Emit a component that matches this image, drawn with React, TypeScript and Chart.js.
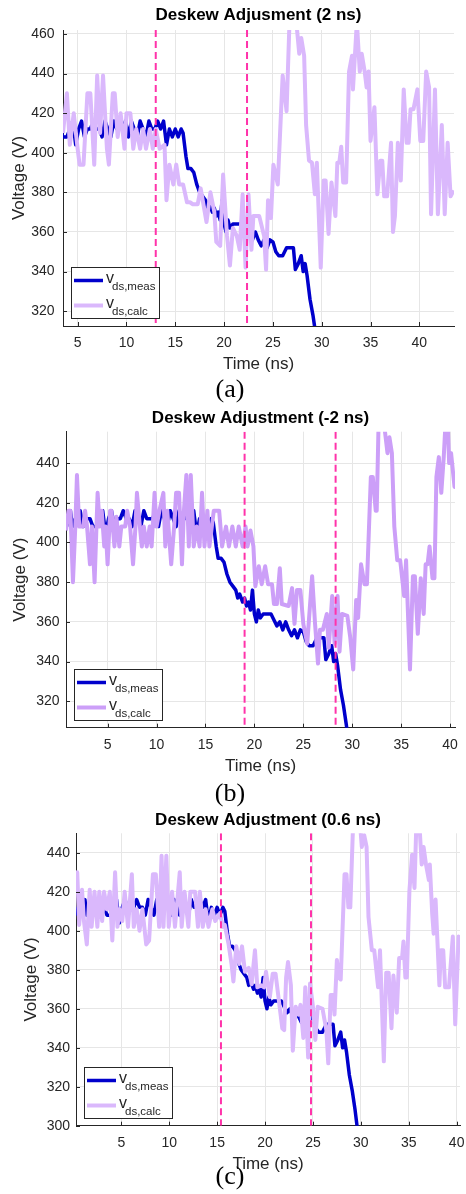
import React, { useEffect, useRef } from "react";
import { Chart, registerables } from "chart.js";

Chart.register(...registerables);

const SANS = "'Liberation Sans', Arial, Helvetica, sans-serif";
const SERIF = "'Liberation Serif', 'Times New Roman', serif";

// ---------- data ----------
const timeTicks = [5, 10, 15, 20, 25, 30, 35, 40];
const voltTicksA = [320, 340, 360, 380, 400, 420, 440, 460];
const voltTicksB = [320, 340, 360, 380, 400, 420, 440];
const voltTicksC = [300, 320, 340, 360, 380, 400, 420, 440];

const panelTitles = [
  "Deskew Adjusment (2 ns)",
  "Deskew Adjustment (-2 ns)",
  "Deskew Adjustment (0.6 ns)",
];
const panelCaptions = ["(a)", "(b)", "(c)"];

// vertical dashed markers (ns)
const markersA = [13.0, 22.35];
const markersB = [19.0, 28.3];
const markersC = [15.4, 24.8];

// measured v_ds [time ns, volts]
const vdsMeas: [number, number][] = [
  [0.2, 408], [0.5, 412], [0.8, 408], [1.0, 412], [1.2, 416], [1.4, 408], [1.7, 412], [2.0, 412],
  [2.2, 416], [2.5, 408], [2.8, 412], [3.2, 412], [3.5, 408], [3.9, 408], [4.2, 412], [4.5, 416],
  [4.8, 404], [5.1, 412], [5.4, 416], [5.7, 408], [6.0, 412], [6.3, 412], [6.6, 416], [6.9, 412],
  [7.2, 412], [7.5, 408], [7.8, 416], [8.1, 412], [8.4, 408], [8.7, 416], [9.0, 412], [9.3, 412],
  [9.6, 412], [9.9, 416], [10.2, 408], [10.5, 416], [10.8, 412], [11.1, 408], [11.4, 416],
  [11.7, 412], [12.0, 408], [12.3, 416], [12.6, 412], [12.9, 412], [13.2, 416], [13.5, 412],
  [13.8, 416], [14.1, 404], [14.4, 412], [14.7, 408], [15.0, 412], [15.3, 408], [15.6, 412],
  [15.8, 410], [16.1, 398], [16.3, 392], [16.6, 392], [16.9, 390], [17.2, 384], [17.5, 380],
  [17.8, 378], [18.1, 376], [18.3, 372], [18.5, 374], [18.8, 370], [19.0, 372], [19.2, 368],
  [19.4, 370], [19.6, 366], [19.8, 376], [20.0, 364], [20.2, 360], [20.4, 366], [20.6, 362],
  [20.9, 364], [21.3, 364], [21.7, 364], [22.0, 361], [22.3, 358], [22.6, 360], [22.9, 356],
  [23.2, 360], [23.5, 356], [23.8, 353], [24.1, 356], [24.4, 352], [24.7, 356], [25.0, 355],
  [25.3, 350], [25.6, 348], [26.0, 348], [26.4, 352], [26.8, 352], [27.1, 352], [27.3, 341],
  [27.6, 344], [27.9, 348], [28.1, 340], [28.3, 344], [28.5, 338], [28.8, 326], [29.1, 318],
  [29.4, 308], [29.7, 296], [30.0, 285],
];

// calculated v_ds, deskew 2 ns
const vdsCalcA: [number, number][] = [
  [3.5, 410], [3.9, 430], [4.2, 404], [4.6, 420], [5.0, 402], [5.2, 394], [5.6, 394], [6.0, 430],
  [6.3, 430], [6.7, 394], [7.0, 439], [7.3, 410], [7.6, 439], [8.0, 402], [8.2, 394], [8.6, 430],
  [8.8, 430], [9.1, 408], [9.4, 420], [9.8, 402], [10.0, 420], [10.4, 420], [10.7, 402], [11.0, 412],
  [11.4, 402], [11.7, 412], [12.0, 402], [12.4, 412], [12.7, 402], [13.0, 412], [13.4, 402],
  [13.9, 404], [14.1, 376], [14.4, 394], [14.8, 384], [15.1, 394], [15.4, 384], [15.8, 384],
  [16.2, 375], [16.5, 375], [16.8, 374], [17.3, 374], [17.6, 382], [18.2, 365], [18.6, 380],
  [19.0, 370], [19.2, 355], [19.6, 353], [19.9, 389], [20.3, 358], [20.6, 343], [20.9, 362],
  [21.3, 358], [21.6, 351], [21.9, 379], [22.2, 342], [22.5, 379], [22.8, 351], [23.0, 368],
  [23.6, 368], [24.1, 358], [24.3, 341], [24.5, 376], [24.8, 367], [25.05, 394], [25.5, 384],
  [26.0, 439], [26.4, 421], [26.7, 466], [27.4, 466], [27.7, 450], [27.9, 458], [28.2, 449],
  [28.4, 414], [28.7, 396], [29.0, 395], [29.3, 379], [29.5, 395], [29.9, 342], [30.2, 386],
  [30.4, 386], [30.7, 359], [31.0, 385], [31.4, 368], [31.6, 395], [31.8, 395], [32.0, 403],
  [32.2, 385], [32.5, 385], [32.8, 441], [33.1, 449], [33.2, 432], [33.6, 466], [33.9, 441],
  [34.1, 450], [34.4, 441], [34.6, 433], [34.8, 441], [35.0, 406], [35.4, 423], [35.7, 379],
  [36.0, 396], [36.2, 396], [36.4, 378], [36.7, 378], [37.1, 405], [37.3, 360], [37.5, 368],
  [37.8, 405], [38.1, 386], [38.4, 432], [38.7, 405], [38.9, 405], [39.1, 422], [39.4, 422],
  [39.8, 432], [40.1, 406], [40.4, 406], [40.7, 441], [41.0, 433], [41.2, 369], [41.6, 432],
  [41.9, 369], [42.3, 414], [42.6, 369], [42.9, 405], [43.2, 378], [43.5, 381],
];

// calculated v_ds, deskew -2 ns
const vdsCalcB: [number, number][] = [
  [0.75, 406], [1.0, 416], [1.2, 416], [1.46, 380], [1.7, 408], [1.87, 434], [2.1, 408], [2.5, 408],
  [2.7, 416], [2.9, 408], [3.2, 389], [3.4, 408], [3.67, 380], [3.98, 425], [4.2, 408], [4.4, 416],
  [4.66, 398], [4.8, 408], [5.0, 389], [5.26, 416], [5.4, 416], [5.7, 398], [5.9, 413], [6.2, 398],
  [6.4, 408], [6.8, 408], [7.0, 416], [7.3, 408], [7.6, 389], [7.85, 408], [8.0, 425], [8.3, 408],
  [8.5, 398], [8.7, 408], [9.0, 398], [9.3, 408], [9.5, 398], [9.8, 425], [10.0, 408], [10.3, 416],
  [10.7, 425], [10.9, 398], [11.1, 416], [11.5, 389], [11.8, 408], [12.0, 425], [12.3, 425],
  [12.6, 389], [12.8, 416], [13.05, 434], [13.3, 398], [13.5, 434], [13.8, 398], [14.1, 408],
  [14.4, 398], [14.65, 425], [14.9, 398], [15.2, 416], [15.4, 398], [15.85, 416], [16.4, 416],
  [16.7, 398], [17.1, 408], [17.4, 398], [17.75, 408], [18.1, 398], [18.4, 408], [18.8, 398],
  [19.1, 408], [19.3, 398], [19.6, 406], [19.9, 398], [20.1, 378], [20.45, 388], [20.75, 379],
  [21.1, 388], [21.4, 379], [21.8, 379], [22.0, 369], [22.3, 369], [22.6, 387], [22.8, 369],
  [23.5, 368], [23.85, 377], [24.1, 359], [24.35, 376], [24.7, 376], [25.0, 359], [25.4, 349],
  [25.9, 383], [26.2, 359], [26.5, 339], [26.7, 356], [27.0, 356], [27.4, 364], [27.6, 347],
  [27.95, 373], [28.2, 349], [28.5, 373], [28.7, 345], [28.95, 364], [29.5, 363], [29.8, 352],
  [30.1, 336], [30.4, 371], [30.6, 362], [30.9, 389], [31.25, 379], [31.5, 379], [31.9, 433],
  [32.1, 433], [32.4, 416], [32.5, 416], [32.7, 462], [33.2, 462], [33.6, 445], [33.8, 453],
  [34.05, 445], [34.3, 408], [34.6, 391], [34.9, 391], [35.3, 373], [35.5, 391], [35.9, 336],
  [36.2, 383], [36.4, 383], [36.7, 354], [37.0, 382], [37.3, 364], [37.5, 389], [37.7, 389],
  [37.9, 398], [38.2, 382], [38.4, 382], [38.6, 433], [38.85, 443], [39.1, 425], [39.35, 443],
  [39.55, 462], [39.75, 462], [39.9, 440], [40.1, 445], [40.45, 428], [40.6, 429],
];

// calculated v_ds, deskew 0.6 ns
const vdsCalcC: [number, number][] = [
  [0.27, 422], [0.4, 430], [0.6, 403], [0.9, 421], [1.1, 405], [1.4, 393], [1.7, 421], [1.9, 402],
  [2.2, 420], [2.5, 402], [2.7, 420], [3.0, 405], [3.2, 420], [3.5, 411], [3.8, 420], [4.06, 395],
  [4.35, 430], [4.6, 402], [4.8, 411], [5.1, 405], [5.35, 420], [5.7, 402], [6.1, 429], [6.3, 402],
  [6.6, 411], [6.9, 400], [7.2, 411], [7.6, 393], [7.9, 395], [8.3, 429], [8.6, 429], [8.95, 402],
  [9.2, 438.5], [9.4, 402], [9.7, 438.5], [9.95, 402], [10.3, 420], [10.6, 402], [11.1, 430],
  [11.3, 402], [11.6, 420], [12.0, 402], [12.2, 420], [12.7, 420], [13.0, 402], [13.2, 420],
  [13.5, 402], [13.8, 411], [14.1, 402], [14.5, 411], [14.8, 405], [15.3, 409], [15.6, 402],
  [15.8, 403], [16.2, 393], [16.5, 383], [16.7, 374], [17.0, 392], [17.3, 383], [17.6, 392],
  [17.9, 379], [18.3, 381], [18.6, 372.6], [18.95, 390], [19.2, 371], [19.6, 372], [19.9, 371],
  [20.1, 379], [20.5, 366], [20.8, 378], [21.1, 378], [21.4, 366], [21.8, 350], [22.0, 349],
  [22.2, 376], [22.4, 384], [22.7, 372], [22.9, 338.5], [23.2, 361], [23.5, 357], [23.7, 362],
  [24.0, 345], [24.2, 371], [24.5, 335], [24.7, 373], [25.0, 361], [25.25, 344], [25.5, 361],
  [26.0, 360], [26.4, 349], [26.6, 332], [26.85, 367], [27.1, 367], [27.25, 357], [27.5, 385],
  [27.7, 376], [27.9, 375], [28.3, 429], [28.5, 429], [28.7, 412], [28.9, 412], [29.2, 456],
  [29.9, 456], [30.1, 443], [30.35, 449], [30.6, 443], [30.8, 407], [31.15, 390], [31.4, 390],
  [31.8, 371], [32.0, 390], [32.4, 333], [32.65, 378.5], [32.9, 378.5], [33.2, 350], [33.4, 377],
  [33.75, 358], [34.0, 386], [34.3, 386], [34.45, 394.5], [34.65, 376], [34.8, 376], [35.07, 420.5],
  [35.35, 439], [35.6, 422], [35.8, 456], [36.1, 456], [36.35, 434], [36.55, 443], [36.8, 434],
  [37.1, 426], [37.2, 434], [37.45, 408.5], [37.6, 398.5], [37.8, 416], [38.2, 372], [38.35, 390],
  [38.6, 390], [38.8, 371], [39.2, 371], [39.6, 397], [39.85, 352], [40.2, 397], [40.4, 396],
];

// ---------- styles / layout ----------
const MEAS_COLOR = "#0000cc";
const MARK_COLOR = "#ff33aa";
const AXIS_COLOR = "#262626";
const GRID_COLOR = "#e6e6e6";

type PanelCfg = {
  title: string;
  calc: [number, number][];
  calcColor: string;
  xMin: number; xMax: number; yMin: number; yMax: number;
  yTicks: number[];
  markers: number[];
  top: number; height: number;
  plotLeft: number; plotRight: number;
  titlePadTop: number; titlePadBottom: number;
  yTitlePad: number; yTickPad: number; xAxisH: number;
};

const panels: PanelCfg[] = [
  {
    title: panelTitles[0], calc: vdsCalcA, calcColor: "#dab8fc",
    xMin: 3.5, xMax: 43.55, yMin: 312.5, yMax: 462, yTicks: voltTicksA, markers: markersA,
    top: 0, height: 376, plotLeft: 63, plotRight: 454,
    titlePadTop: 4.8, titlePadBottom: 4.8, yTitlePad: 8.8, yTickPad: 8.5, xAxisH: 50,
  },
  {
    title: panelTitles[1], calc: vdsCalcB, calcColor: "#cc9ff8",
    xMin: 0.75, xMax: 40.5, yMin: 306.7, yMax: 455.8, yTicks: voltTicksB, markers: markersB,
    top: 396, height: 382, plotLeft: 66, plotRight: 455,
    titlePadTop: 12.1, titlePadBottom: 3.2, yTitlePad: 9.8, yTickPad: 6.5, xAxisH: 50.3,
  },
  {
    title: panelTitles[2], calc: vdsCalcC, calcColor: "#dab8fc",
    xMin: 0.27, xMax: 40.35, yMin: 300, yMax: 450, yTicks: voltTicksC, markers: markersC,
    top: 800, height: 376, plotLeft: 76, plotRight: 460,
    titlePadTop: 10.3, titlePadBottom: 2.6, yTitlePad: 21.5, yTickPad: 6, xAxisH: 50.3,
  },
];

const captionTops = [376, 780, 1163];

function makeOverlay(cfg: PanelCfg) {
  return {
    id: "overlay",
    afterDraw(chart: any) {
      const { ctx, chartArea: a } = chart;
      const xs = chart.scales.x;
      const ys = chart.scales.y;
      ctx.save();
      // dashed markers
      ctx.beginPath();
      ctx.rect(a.left, a.top, a.right - a.left, a.bottom - a.top);
      ctx.clip();
      ctx.strokeStyle = MARK_COLOR;
      ctx.lineWidth = 2;
      ctx.setLineDash([7, 4]);
      for (const m of cfg.markers) {
        const px = xs.getPixelForValue(m);
        ctx.beginPath();
        ctx.moveTo(px, a.top);
        ctx.lineTo(px, a.bottom);
        ctx.stroke();
      }
      ctx.restore();

      // inward tick marks
      ctx.save();
      ctx.strokeStyle = AXIS_COLOR;
      ctx.lineWidth = 1;
      ctx.beginPath();
      for (const v of timeTicks) {
        const px = Math.round(xs.getPixelForValue(v)) + 0.5;
        ctx.moveTo(px, a.bottom);
        ctx.lineTo(px, a.bottom - 4);
      }
      for (const v of cfg.yTicks) {
        const py = Math.round(ys.getPixelForValue(v)) + 0.5;
        ctx.moveTo(a.left, py);
        ctx.lineTo(a.left + 4, py);
      }
      ctx.stroke();
      ctx.restore();

      // legend
      const bw = 88, bh = 51;
      const bx = Math.round(a.left + 8);
      const by = Math.round(a.bottom - 8 - bh);
      ctx.save();
      ctx.fillStyle = "#ffffff";
      ctx.fillRect(bx, by, bw, bh);
      ctx.strokeStyle = AXIS_COLOR;
      ctx.lineWidth = 1;
      ctx.strokeRect(bx + 0.5, by + 0.5, bw, bh);
      const entries = [
        { color: MEAS_COLOR, width: 3.5, sub: "ds,meas", dy: 13.5 },
        { color: cfg.calcColor, width: 4, sub: "ds,calc", dy: 38.5 },
      ];
      for (const e of entries) {
        ctx.strokeStyle = e.color;
        ctx.lineWidth = e.width;
        ctx.beginPath();
        ctx.moveTo(bx + 3, by + e.dy);
        ctx.lineTo(bx + 32, by + e.dy);
        ctx.stroke();
        ctx.fillStyle = AXIS_COLOR;
        ctx.textBaseline = "alphabetic";
        ctx.textAlign = "left";
        ctx.font = `16px ${SANS}`;
        ctx.fillText("v", bx + 35, by + e.dy + 2.5);
        ctx.font = `11.5px ${SANS}`;
        ctx.fillText(e.sub, bx + 41, by + e.dy + 9.5);
      }
      ctx.restore();
    },
  };
}

function buildConfig(cfg: PanelCfg): any {
  return {
    type: "line",
    data: {
      datasets: [
        {
          label: "v_ds,calc",
          data: cfg.calc.map(([x, y]) => ({ x, y })),
          borderColor: cfg.calcColor,
          borderWidth: 4,
          pointRadius: 0,
          tension: 0,
          order: 1,
          clip: 0,
          borderJoinStyle: "round",
        },
        {
          label: "v_ds,meas",
          data: vdsMeas.map(([x, y]) => ({ x, y })),
          borderColor: MEAS_COLOR,
          borderWidth: 3.5,
          pointRadius: 0,
          tension: 0,
          order: 2,
          clip: 0,
          borderJoinStyle: "round",
        },
      ],
    },
    options: {
      animation: false,
      responsive: false,
      maintainAspectRatio: false,
      devicePixelRatio: 1,
      layout: { padding: { left: 0, right: 466 - cfg.plotRight, top: 0, bottom: 0 } },
      plugins: {
        legend: { display: false },
        tooltip: { enabled: false },
        title: {
          display: true,
          text: cfg.title,
          fullSize: false,
          color: "#000000",
          font: { family: SANS, size: 17, weight: "bold", lineHeight: 1.2 },
          padding: { top: cfg.titlePadTop, bottom: cfg.titlePadBottom },
        },
      },
      scales: {
        x: {
          type: "linear",
          min: cfg.xMin,
          max: cfg.xMax,
          bounds: "data",
          afterBuildTicks: (s: any) => {
            s.ticks = timeTicks.map((v) => ({ value: v }));
          },
          afterFit: (s: any) => {
            s.height = cfg.xAxisH;
            s.paddingLeft = 0;
            s.paddingRight = 0;
          },
          grid: { color: GRID_COLOR, drawTicks: false, lineWidth: 1 },
          border: { color: AXIS_COLOR, width: 1 },
          ticks: {
            color: AXIS_COLOR,
            font: { family: SANS, size: 14, lineHeight: 1.2 },
            padding: 8.6,
            maxRotation: 0,
            autoSkip: false,
            callback: (v: any) => String(v),
          },
          title: {
            display: true,
            text: "Time (ns)",
            color: AXIS_COLOR,
            font: { family: SANS, size: 17, lineHeight: 1.2 },
            padding: { top: 0, bottom: cfg.xAxisH - 48.7 },
          },
        },
        y: {
          type: "linear",
          min: cfg.yMin,
          max: cfg.yMax,
          bounds: "data",
          afterBuildTicks: (s: any) => {
            s.ticks = cfg.yTicks.map((v) => ({ value: v }));
          },
          afterFit: (s: any) => {
            s.width = cfg.plotLeft;
            s.paddingTop = 0;
            s.paddingBottom = 0;
          },
          grid: { color: GRID_COLOR, drawTicks: false, lineWidth: 1 },
          border: { color: AXIS_COLOR, width: 1 },
          ticks: {
            color: AXIS_COLOR,
            font: { family: SANS, size: 14, lineHeight: 1.2 },
            padding: cfg.yTickPad,
            autoSkip: false,
            callback: (v: any) => String(v),
          },
          title: {
            display: true,
            text: "Voltage (V)",
            color: AXIS_COLOR,
            font: { family: SANS, size: 17, lineHeight: 1.2 },
            padding: { top: cfg.yTitlePad, bottom: 0 },
          },
        },
      },
    },
    plugins: [makeOverlay(cfg)],
  };
}

function Panel({ cfg }: { cfg: PanelCfg }) {
  const ref = useRef<HTMLCanvasElement>(null);
  useEffect(() => {
    if (!ref.current) return;
    const chart = new Chart(ref.current, buildConfig(cfg));
    return () => chart.destroy();
  }, [cfg]);
  return (
    <canvas
      ref={ref}
      width={466}
      height={cfg.height}
      style={{ position: "absolute", left: 0, top: cfg.top, width: 466, height: cfg.height }}
    />
  );
}

export default function App() {
  return (
    <div style={{ position: "absolute", left: 0, top: 0, width: 466, height: 1194, background: "#fff" }}>
      {panels.map((p, i) => (
        <Panel key={i} cfg={p} />
      ))}
      {panelCaptions.map((c, i) => (
        <div
          key={c}
          style={{
            position: "absolute",
            left: 0,
            width: 460,
            top: captionTops[i],
            textAlign: "center",
            fontFamily: SERIF,
            fontSize: 26,
            lineHeight: "26px",
            color: "#000",
          }}
        >
          {c}
        </div>
      ))}
    </div>
  );
}
